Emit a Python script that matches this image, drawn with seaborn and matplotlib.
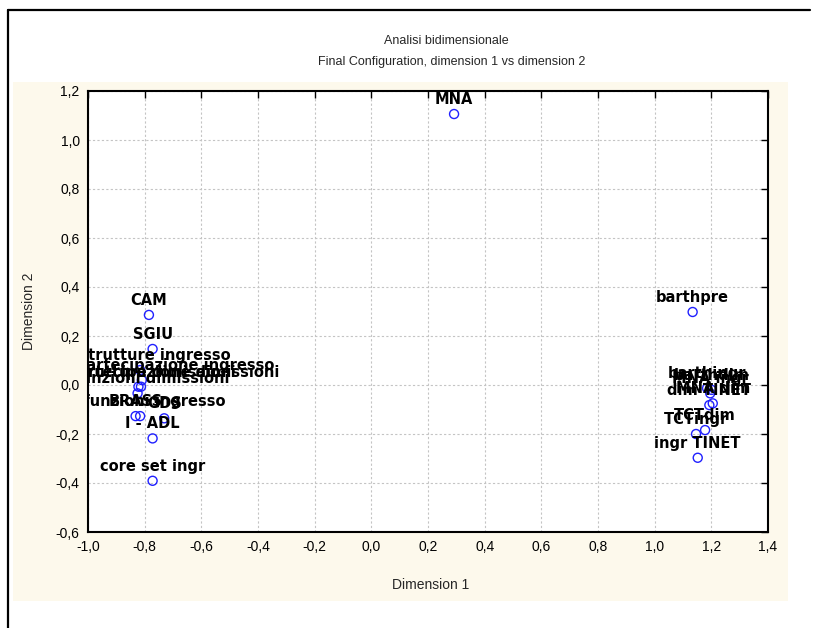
import matplotlib
matplotlib.use("Agg")
import matplotlib.pyplot as plt
from matplotlib.patches import Rectangle
from matplotlib.lines import Line2D
import seaborn as sns
import pandas as pd

# ---- data ----
labels = ["MNA", "CAM", "SGIU",
          "tot strutture ingresso", "attività partecipazione ingresso",
          "tot strutture dimissioni", "attività partecipazione dimissioni",
          "tot funzioni dimissioni", "BRASS", "tot funzioni ingresso", "GDS",
          "I - ADL", "core set ingr",
          "barthpre", "barthingr", "barthdim", "MNA ingr", "dim TINET", "MNA dim",
          "TCTdim", "TCTingr", "ingr TINET"]
dim1 = [0.292, -0.785, -0.772,
        -0.816, -0.810,
        -0.822, -0.813,
        -0.825, -0.832, -0.816, -0.731,
        -0.772, -0.772,
        1.134, 1.185, 1.201, 1.196, 1.193, 1.205,
        1.178, 1.146, 1.152]
dim2 = [1.106, 0.286, 0.147,
        0.061, 0.020,
        -0.007, -0.007,
        -0.034, -0.127, -0.127, -0.136,
        -0.218, -0.391,
        0.298, -0.013, -0.020, -0.034, -0.082, -0.075,
        -0.184, -0.200, -0.297]

xticks = [-1.0, -0.8, -0.6, -0.4, -0.2, 0.0, 0.2, 0.4, 0.6, 0.8, 1.0, 1.2, 1.4]
xtick_labels = ["-1,0", "-0,8", "-0,6", "-0,4", "-0,2", "0,0", "0,2", "0,4",
                "0,6", "0,8", "1,0", "1,2", "1,4"]
yticks = [-0.6, -0.4, -0.2, 0.0, 0.2, 0.4, 0.6, 0.8, 1.0, 1.2]
ytick_labels = ["-0,6", "-0,4", "-0,2", "0,0", "0,2", "0,4", "0,6", "0,8",
                "1,0", "1,2"]

title1 = "Analisi bidimensionale"
title2 = "Final Configuration, dimension 1 vs dimension 2"
xlabel = "Dimension 1"
ylabel = "Dimension 2"

df = pd.DataFrame({"label": labels, "dim1": dim1, "dim2": dim2})

sns.set_style("white")
plt.rcParams["font.family"] = ["Liberation Sans", "DejaVu Sans"]

W, H = 828, 628
fig = plt.figure(figsize=(W / 100, H / 100), dpi=100)
fig.patch.set_facecolor("white")

# cream background panel
fig.patches.append(Rectangle((13 / W, 1 - 601 / H), (788 - 13) / W, (601 - 82) / H,
                             transform=fig.transFigure, facecolor="#fdf9ec",
                             edgecolor="none", zorder=-2))
# outer frame lines
fig.lines.append(Line2D([8 / W, 810 / W], [1 - 10 / H, 1 - 10 / H],
                        transform=fig.transFigure, color="black", lw=1.6))
fig.lines.append(Line2D([8 / W, 8 / W], [1 - 10 / H, 0],
                        transform=fig.transFigure, color="black", lw=1.6))

ax = fig.add_axes([88 / W, 1 - 532 / H, (768 - 88) / W, (532 - 91) / H])
ax.set_facecolor("white")

sns.scatterplot(data=df, x="dim1", y="dim2", ax=ax, marker="o", s=42,
                facecolor="none", edgecolor="#2020ff", linewidth=1.0, zorder=3,
                legend=False)

for lab, x, y in zip(df["label"], df["dim1"], df["dim2"]):
    t = ax.annotate(lab, (x, y), xytext=(0, 5.0), textcoords="offset points",
                    ha="center", va="bottom", fontsize=10.5, fontweight="bold",
                    family="DejaVu Sans", color="black", annotation_clip=False,
                    zorder=4)
    t.set_clip_on(True)
    t.set_clip_box(ax.bbox)

ax.set_xlim(-1.0, 1.4)
ax.set_ylim(-0.6, 1.2)
ax.set_xticks(xticks)
ax.set_xticklabels(xtick_labels)
ax.set_yticks(yticks)
ax.set_yticklabels(ytick_labels)
ax.tick_params(direction="in", top=True, right=True, length=5, width=1,
               labelsize=10, pad=6, colors="black")
ax.grid(True, color="#c4c4c4", linestyle=(0, (2, 2)), linewidth=0.8)
ax.set_axisbelow(True)
for sp in ax.spines.values():
    sp.set_visible(True)
    sp.set_color("black")
    sp.set_linewidth(1.5)

ax.set_xlabel(xlabel, fontsize=10)
ax.set_ylabel(ylabel, fontsize=10)
ax.xaxis.set_label_coords(0.504, -0.104)
ax.yaxis.set_label_coords(-0.077, 0.5)

fig.text(446 / W, 1 - 41 / H, title1, ha="center", va="center", fontsize=9)
fig.text(452 / W, 1 - 62 / H, title2, ha="center", va="center", fontsize=9)

fig.savefig("out.png", dpi=100, facecolor="white")
